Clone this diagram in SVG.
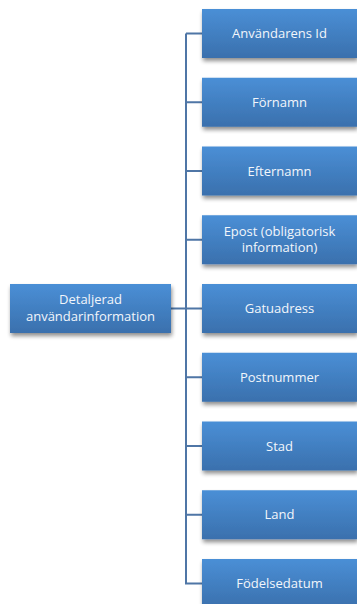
<svg xmlns="http://www.w3.org/2000/svg" width="357" height="604" viewBox="0 0 357 604">
<defs>
<linearGradient id="g" x1="0" y1="0" x2="0" y2="1">
<stop offset="0" stop-color="#4a8fd6"/>
<stop offset="1" stop-color="#3a70ad"/>
</linearGradient>
<filter id="sh" x="-10%" y="-20%" width="125%" height="160%">
<feGaussianBlur in="SourceAlpha" stdDeviation="2"/>
<feOffset dx="1" dy="3" result="b"/>
<feComponentTransfer><feFuncA type="linear" slope="0.45"/></feComponentTransfer>
<feMerge><feMergeNode/><feMergeNode in="SourceGraphic"/></feMerge>
</filter>
</defs>
<style>
.box{fill:url(#g);filter:url(#sh)}
.t{fill:#f2f6fb;font-family:"Open Sans","Liberation Sans",sans-serif;font-size:13px;text-anchor:middle}
.c{stroke:#4f76a6;stroke-width:2;fill:none}
</style>
<rect width="357" height="604" fill="#fff"/>
<g id="connectors">
<path class="c" d="M186 33.5V584.5M186 33.5H202M186 102.25H202M186 171H202M186 239.75H202M186 308.5H202M186 377.25H202M186 446H202M186 514.75H202M186 583.5H202M171 308.5H186"/>
</g>
<g id="root"><rect class="box" x="10" y="284" width="161" height="49"/><text class="t" x="90.5" y="304">Detaljerad</text><text class="t" x="90.5" y="321">användarinformation</text></g>
<g id="n1"><rect class="box" x="202" y="9" width="155" height="49"/><text class="t" x="279.5" y="38">Användarens Id</text></g>
<g id="n2"><rect class="box" x="202" y="77.75" width="155" height="49"/><text class="t" x="279.5" y="106.75">Förnamn</text></g>
<g id="n3"><rect class="box" x="202" y="146.5" width="155" height="49"/><text class="t" x="279.5" y="175.5">Efternamn</text></g>
<g id="n4"><rect class="box" x="202" y="215.25" width="155" height="49"/><text class="t" x="279.5" y="235.5">Epost (obligatorisk</text><text class="t" x="279.5" y="252">information)</text></g>
<g id="n5"><rect class="box" x="202" y="284" width="155" height="49"/><text class="t" x="279.5" y="313">Gatuadress</text></g>
<g id="n6"><rect class="box" x="202" y="352.75" width="155" height="49"/><text class="t" x="279.5" y="381.75">Postnummer</text></g>
<g id="n7"><rect class="box" x="202" y="421.5" width="155" height="49"/><text class="t" x="279.5" y="450.5">Stad</text></g>
<g id="n8"><rect class="box" x="202" y="490.25" width="155" height="49"/><text class="t" x="279.5" y="519.25">Land</text></g>
<g id="n9"><rect class="box" x="202" y="559" width="155" height="49"/><text class="t" x="279.5" y="588">Födelsedatum</text></g>
</svg>
